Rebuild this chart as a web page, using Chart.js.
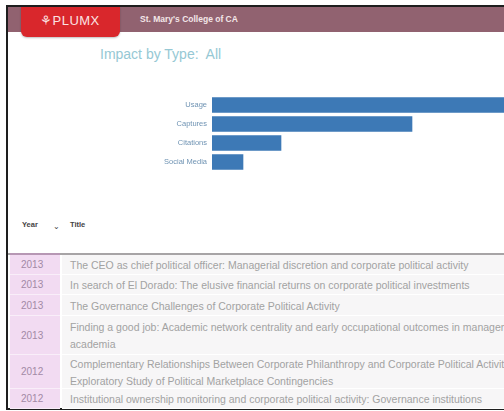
<!DOCTYPE html>
<html>
<head>
<meta charset="utf-8">
<script src="https://cdn.jsdelivr.net/npm/chart.js@4"></script>
<style>
  html, body { margin:0; padding:0; width:504px; height:411px; overflow:hidden; background:#fff; font-family:"Liberation Sans", Arial, sans-serif; }
  #frame { position:absolute; left:6px; top:5px; width:620px; height:401px; border:2px solid #1e1e1e; }
  #band { position:absolute; left:8px; top:7px; width:620px; height:25px; background:#916270; }
  #tab { position:absolute; left:21px; top:7px; width:99px; height:30px; background:#d9272c; border-radius:0 0 6px 6px; box-shadow:0 1px 2px rgba(0,0,0,0.25); }
  #logo { position:absolute; left:40px; top:13px; color:#fbe3e3; font-size:13px; letter-spacing:0.5px; }
  #inst { position:absolute; left:140px; top:14px; color:#f3e6e8; font-size:8.5px; font-weight:bold; }
  #ititle { position:absolute; left:100px; top:46px; color:#96c8d4; font-size:14px; }
  #wrap { position:absolute; left:150px; top:86px; width:530px; height:95px; }
  .hdr { position:absolute; top:220px; font-size:7.5px; font-weight:bold; color:#444; }
  #hline { position:absolute; left:8px; top:253px; width:620px; height:2px; background:#a7a4a6; }
  #hline2 { position:absolute; left:10px; top:253px; width:50px; height:2px; background:#b797b4; }
  .ycell { position:absolute; left:10px; width:50px; background:#f2dbf2; box-sizing:border-box; border-bottom:1px solid #f9eef9; }
  .ycell span { position:absolute; left:11px; font-size:10px; line-height:12px; color:#a28aa5; }
  .tcell { position:absolute; left:62px; width:560px; background:#f7f6f7; box-sizing:border-box; border-bottom:1px solid #fff; overflow:hidden; }
  .tcell div { position:absolute; left:8px; font-size:10.5px; line-height:12px; color:#a2a2a2; white-space:nowrap; }
</style>
</head>
<body>
<div id="frame"></div>
<div id="band"></div>
<div id="tab"></div>
<div id="logo">&#x2698;PLUMX</div>
<div id="inst">St. Mary's College of CA</div>
<div id="ititle">Impact by Type:&nbsp; All</div>
<div id="wrap"><canvas id="c" width="530" height="95"></canvas></div>
<div class="hdr" style="left:22px;">Year</div>
<div class="hdr" style="left:53px;top:222px;font-weight:normal;">&#x2304;</div>
<div class="hdr" style="left:70px;">Title</div>
<div id="hline"></div>
<div id="hline2"></div>
<div id="rows"></div>
<script>
const categories = ["Usage", "Captures", "Citations", "Social Media"];
const impactValues = [430, 200, 69, 31];

const years = ["2013", "2013", "2013", "2013", "2012", "2012"];
const titleLines = [
  ["The CEO as chief political officer: Managerial discretion and corporate political activity"],
  ["In search of El Dorado: The elusive financial returns on corporate political investments"],
  ["The Governance Challenges of Corporate Political Activity"],
  ["Finding a good job: Academic network centrality and early occupational outcomes in management", "academia"],
  ["Complementary Relationships Between Corporate Philanthropy and Corporate Political Activity: An", "Exploratory Study of Political Marketplace Contingencies"],
  ["Institutional ownership monitoring and corporate political activity: Governance institutions"]
];

// table layout
const rowHeights = [20, 20, 21, 39, 34, 20];
const rowsEl = document.getElementById('rows');
let y = 255;
titleLines.forEach((lines, i) => {
  const h = rowHeights[i];
  const yc = document.createElement('div');
  yc.className = 'ycell';
  yc.style.top = y + 'px'; yc.style.height = h + 'px';
  const s = document.createElement('span');
  s.textContent = years[i];
  s.style.top = (h / 2 - 6) + 'px';
  yc.appendChild(s);
  rowsEl.appendChild(yc);
  const tc = document.createElement('div');
  tc.className = 'tcell';
  tc.style.top = y + 'px'; tc.style.height = h + 'px';
  lines.forEach((ln, k) => {
    const d = document.createElement('div');
    d.textContent = ln;
    d.style.top = (h / 2 - 6 - (lines.length - 1) * 8.5 + k * 17) + 'px';
    tc.appendChild(d);
  });
  rowsEl.appendChild(tc);
  y += h;
});

new Chart(document.getElementById('c'), {
  type: 'bar',
  data: {
    labels: categories,
    datasets: [{
      data: impactValues,
      backgroundColor: '#3d79b6',
      borderWidth: 0,
      barThickness: 15
    }]
  },
  options: {
    indexAxis: 'y',
    responsive: false,
    animation: false,
    devicePixelRatio: 1,
    layout: { padding: 0 },
    plugins: { legend: { display: false }, tooltip: { enabled: false } },
    scales: {
      x: { display: false, min: 0, max: 468 },
      y: {
        grid: { display: false, drawTicks: false },
        border: { display: false },
        ticks: { color: '#6f93b3', font: { size: 7.5, family: 'Liberation Sans' }, padding: 5 },
        afterFit: (s) => { s.width = 62; }
      }
    }
  }
});
</script>
</body>
</html>
